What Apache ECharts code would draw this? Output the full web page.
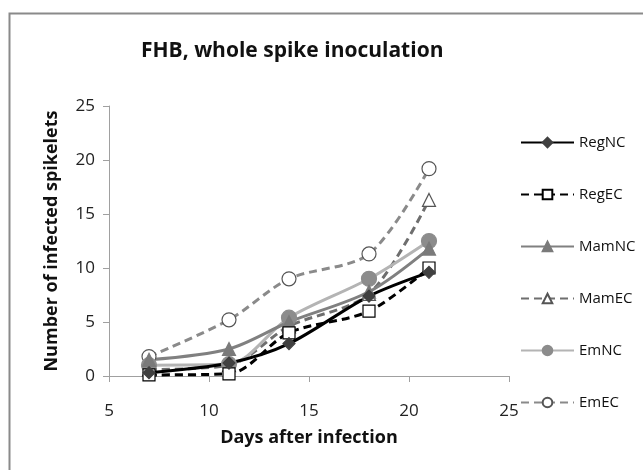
<!DOCTYPE html>
<html>
<head>
<meta charset="utf-8">
<script src="https://cdn.jsdelivr.net/npm/echarts@6/dist/echarts.min.js"></script>
<style>
  html, body { margin: 0; padding: 0; background: #fff; }
  #chart { width: 643px; height: 470px; }
</style>
</head>
<body>
<div id="chart"></div>
<script>
// days after infection
const days = [7, 11, 14, 18, 21]
const regNC = [0.3, 1.2, 3.0, 7.4, 9.6]
const regEC = [0.1, 0.2, 4.0, 6.0, 10.0]
const mamNC = [1.5, 2.5, 5.0, 7.8, 11.8]
const mamEC = [0.6, 1.0, 4.6, 7.6, 16.3]
const emNC = [1.0, 1.1, 5.4, 9.0, 12.5]
const emEC = [1.8, 5.2, 9.0, 11.3, 19.2]
const xTicks = [5, 10, 15, 20, 25]
const yTicks = [0, 5, 10, 15, 20, 25]

const font = '"Open Sans", "Liberation Sans", sans-serif'

function pairs(vals) {
    return days.map((d, i) => [d, vals[i]])
}

function makeSeries(name, vals, line, dashed, symbol, size, fill, border) {
    return {
        name: name,
        type: 'line',
        smooth: 0.3,
        data: pairs(vals),
        symbol: symbol,
        symbolSize: size,
        lineStyle: { color: line, width: 3, type: dashed ? [8, 5] : 'solid' },
        itemStyle: { color: fill, borderColor: border, borderWidth: 1.2 }
    }
}

let myChart = echarts.init(document.getElementById('chart'))
myChart.setOption({
    animation: false,
    textStyle: { fontFamily: font },
    title: {
        text: 'FHB, whole spike inoculation',
        left: 136,
        top: 36,
        textStyle: { fontSize: 21, fontWeight: 'bold', color: '#111', fontFamily: font }
    },
    graphic: [
        {
            type: 'rect',
            shape: { x: 9.5, y: 13.5, width: 700, height: 500 },
            style: { fill: 'none', stroke: '#8a8a8a', lineWidth: 2 }
        }
    ],
    legend: {
        orient: 'vertical',
        left: 515,
        top: 130,
        itemWidth: 53,
        itemHeight: 12,
        itemGap: 37,
        textStyle: { fontSize: 15, color: '#111', fontFamily: font },
        data: ['RegNC', 'RegEC', 'MamNC', 'MamEC', 'EmNC', 'EmEC']
    },
    grid: {
        left: 109,
        top: 106,
        width: 400,
        height: 270
    },
    xAxis: {
        type: 'value',
        min: 5,
        max: 25,
        interval: 5,
        name: 'Days after infection',
        nameLocation: 'middle',
        nameGap: 53,
        nameTextStyle: { fontSize: 18, fontWeight: 'bold', color: '#111' },
        axisLine: { lineStyle: { color: '#a0a0a0', width: 1 } },
        axisTick: { show: true, length: 6, lineStyle: { color: '#a0a0a0' } },
        axisLabel: {
            fontSize: 17,
            color: '#222',
            margin: 27,
            formatter: v => (xTicks.includes(v) ? String(v) : '')
        },
        splitLine: { show: false }
    },
    yAxis: {
        type: 'value',
        min: 0,
        max: 25,
        interval: 5,
        name: 'Number of infected spikelets',
        nameLocation: 'middle',
        nameGap: 48,
        nameTextStyle: { fontSize: 18, fontWeight: 'bold', color: '#111' },
        axisLine: { show: true, lineStyle: { color: '#a0a0a0', width: 1 } },
        axisTick: { show: true, length: 6, lineStyle: { color: '#a0a0a0' } },
        axisLabel: {
            fontSize: 17,
            color: '#222',
            margin: 14,
            formatter: v => (yTicks.includes(v) ? String(v) : '')
        },
        splitLine: { show: false }
    },
    series: [
        makeSeries('EmEC', emEC, '#8a8a8a', true, 'circle', 14, '#fff', '#555'),
        makeSeries('MamEC', mamEC, '#6e6e6e', true, 'triangle', 13, '#fff', '#555'),
        makeSeries('EmNC', emNC, '#b4b4b4', false, 'circle', 15, '#8c8c8c', '#8c8c8c'),
        makeSeries('MamNC', mamNC, '#808080', false, 'triangle', 13, '#7a7a7a', '#7a7a7a'),
        makeSeries('RegEC', regEC, '#000', true, 'rect', 12, '#fff', '#000'),
        makeSeries('RegNC', regNC, '#000', false, 'diamond', 12, '#404040', '#404040')
    ]
})
window.addEventListener('resize', function() {
    myChart.resize()
})
</script>
</body>
</html>
